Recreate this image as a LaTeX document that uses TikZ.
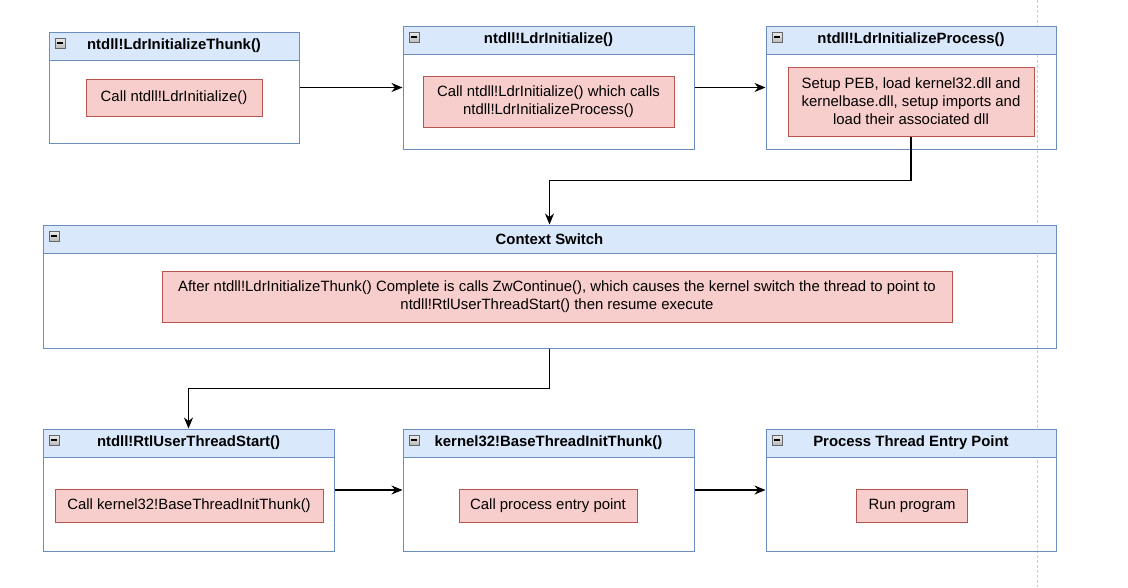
\documentclass[tikz,border=0pt]{standalone}
\usepackage{fontspec}
\setmainfont{Liberation Sans}
\usepackage{xcolor}
\usepackage{tikz}
\usetikzlibrary{arrows.meta,positioning}
\definecolor{azulfondo}{HTML}{DAE8FC}
\definecolor{azulborde}{HTML}{6C8EBF}
\definecolor{rojofondo}{HTML}{F8CECC}
\definecolor{rojoborde}{HTML}{B85450}
\tikzset{
  marco/.style={draw=azulborde,line width=1pt,inner sep=0pt},
  cabecera/.style={draw=azulborde,fill=azulfondo,line width=1pt,minimum height=28pt,inner sep=0pt,anchor=north,font=\fontsize{14.9}{18}\selectfont\bfseries},
  nota/.style={draw=rojoborde,fill=rojofondo,line width=1pt,inner sep=0pt,align=center,font=\fontsize{14.9}{18}\selectfont},
  menos/.style={draw=gray!80!black,top color=gray!15,bottom color=gray!55,minimum size=10pt,inner sep=0pt,anchor=north west},
  flecha/.style={-{Stealth[length=11pt,width=9pt]},line width=1.1pt},
  pagina/.style={gray!40,line width=1pt,dash pattern=on 3pt off 2pt}
}
\begin{document}
\begin{tikzpicture}[x=1pt,y=-1pt]
\useasboundingbox (0,0) rectangle (1128,587);
\draw[pagina] (1037,0) -- (1037,587);
% fila de arriba
\node[marco,minimum width=250pt,minimum height=111pt] (m1) at (174,87.5) {};
\node[cabecera,minimum width=250pt] (c1) at (m1.north) {ntdll!LdrInitializeThunk()};
\node[nota,minimum width=176pt,minimum height=37pt] (r1) at (174,97.5) {Call ntdll!LdrInitialize()};
\node[marco,minimum width=291pt,minimum height=123pt] (m2) at (548.5,87.5) {};
\node[cabecera,minimum width=291pt] (c2) at (m2.north) {ntdll!LdrInitialize()};
\node[nota,minimum width=251pt,minimum height=51pt] (r2) at (548.5,101.5) {Call ntdll!LdrInitialize() which calls\\ntdll!LdrInitializeProcess()};
\node[marco,minimum width=290pt,minimum height=123pt] (m3) at (911,87.5) {};
\node[cabecera,minimum width=290pt] (c3) at (m3.north) {ntdll!LdrInitializeProcess()};
\node[nota,minimum width=246pt,minimum height=69pt] (r3) at (911,101.5) {Setup PEB, load kernel32.dll and\\kernelbase.dll, setup imports and\\load their associated dll};
% cambio de contexto
\node[marco,minimum width=1013pt,minimum height=123pt] (m4) at (549.5,286.5) {};
\node[cabecera,minimum width=1013pt] (c4) at (m4.north) {Context Switch};
\node[nota,minimum width=790pt,minimum height=51pt] (r4) at (557,296.5) {After ntdll!LdrInitializeThunk() Complete is calls ZwContinue(), which causes the kernel switch the thread to point to\\ntdll!RtlUserThreadStart() then resume execute};
% fila de abajo
\node[marco,minimum width=291pt,minimum height=122pt] (m5) at (188.5,490) {};
\node[cabecera,minimum width=291pt] (c5) at (m5.north) {ntdll!RtlUserThreadStart()};
\node[nota,minimum width=268pt,minimum height=33pt] (r5) at (189,505.5) {Call kernel32!BaseThreadInitThunk()};
\node[marco,minimum width=291pt,minimum height=122pt] (m6) at (548.5,490) {};
\node[cabecera,minimum width=291pt] (c6) at (m6.north) {kernel32!BaseThreadInitThunk()};
\node[nota,minimum width=178pt,minimum height=33pt] (r6) at (548,505.5) {Call process entry point};
\node[marco,minimum width=290pt,minimum height=122pt] (m7) at (911,490) {};
\node[cabecera,minimum width=290pt] (c7) at (m7.north) {Process Thread Entry Point};
\node[nota,minimum width=111pt,minimum height=33pt] (r7) at (912,505.5) {Run program};
\foreach \i in {1,...,7}
  \node[menos] (i\i) at ([shift={(6.5pt,-6.5pt)}]c\i.north west) {\rule{6pt}{1.5pt}};
\coordinate (k1) at (549.5,180.5);
\coordinate (k2) at (188.5,388.5);
\draw[flecha] (m1.east) -- (m2.west);
\draw[flecha] (m2.east) -- (m3.west);
\draw[flecha] (r3.south) |- (k1) -| (m4.north);
\draw[flecha] (m4.south) |- (k2) -| (m5.north);
\draw[flecha] (m5.east) -- (m6.west);
\draw[flecha] (m6.east) -- (m7.west);
\end{tikzpicture}
\end{document}
